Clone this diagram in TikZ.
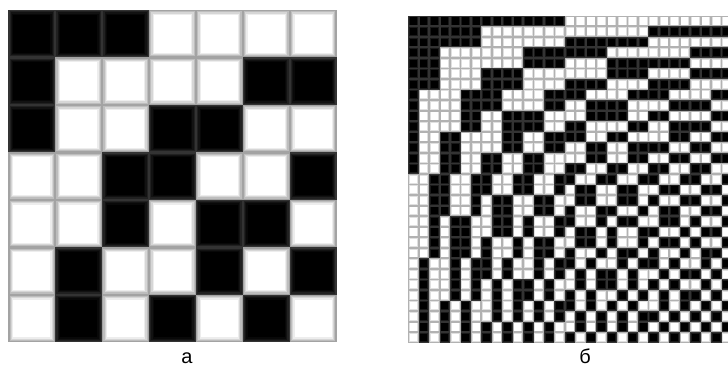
\documentclass[tikz,border=0pt]{standalone}
\usepackage{fontspec}
\setmainfont{Liberation Sans}
\usepackage{tikz}

\begin{document}
\begin{tikzpicture}[x=1pt,y=-1pt,
    declare function={
      gb(\k,\p)=mod(floor(\k/\p+.01)+floor(\k/(2*\p)+.01),2);
      jb(\j,\p)=mod(floor(\j/\p+.01),2);
      wal(\k,\j)=mod(gb(\k,1)*jb(\j,4)+gb(\k,2)*jb(\j,2)+gb(\k,4)*jb(\j,1),2);
      walb(\k,\j)=mod(gb(\k,1)*jb(\j,16)+gb(\k,2)*jb(\j,8)+gb(\k,4)*jb(\j,4)+gb(\k,8)*jb(\j,2)+gb(\k,16)*jb(\j,1),2);
    },
    lab/.style={font=\fontsize{20}{24}\selectfont,anchor=base,inner sep=0pt}]
  \useasboundingbox (0,0) rectangle (728,365);
  \clip (0,0) rectangle (728,365);
  \fill[white] (0,0) rectangle (728,365);
  % a: 7x7 cells
  \foreach \r in {1,...,7}
    \foreach \c in {1,...,7} {
      \pgfmathtruncatemacro\on{1-wal(\r,\c)}
      \foreach \d/\pw/\pb in {0/36/80,1.2/26/87,2.4/16/93,3.6/7/97,4.8/0/100} {
        \pgfmathtruncatemacro\pct{\on*\pb+(1-\on)*\pw}
        \fill[black!\pct] ({8.3+(\c-1)*46.9+\d},{10+(\r-1)*47.47+\d})
          rectangle ({8.3+\c*46.9-\d},{10+\r*47.47-\d});
      }
    }
  % b: 31x31 cells
  \foreach \r in {1,...,31}
    \foreach \c in {1,...,31} {
      \pgfmathtruncatemacro\on{1-walb(\r,\c)}
      \foreach \d/\pw/\pb in {0/30/80,0.9/12/90,1.7/0/100} {
        \pgfmathtruncatemacro\pct{\on*\pb+(1-\on)*\pw}
        \fill[black!\pct] ({408.3+(\c-1)*10.44+\d},{15.7+(\r-1)*10.55+\d})
          rectangle ({408.3+\c*10.44-\d},{15.7+\r*10.55-\d});
      }
    }
  \node[lab] (capa) at (187,363) {а};
  \node[lab] (capb) at (585,363) {б};
\end{tikzpicture}
\end{document}
